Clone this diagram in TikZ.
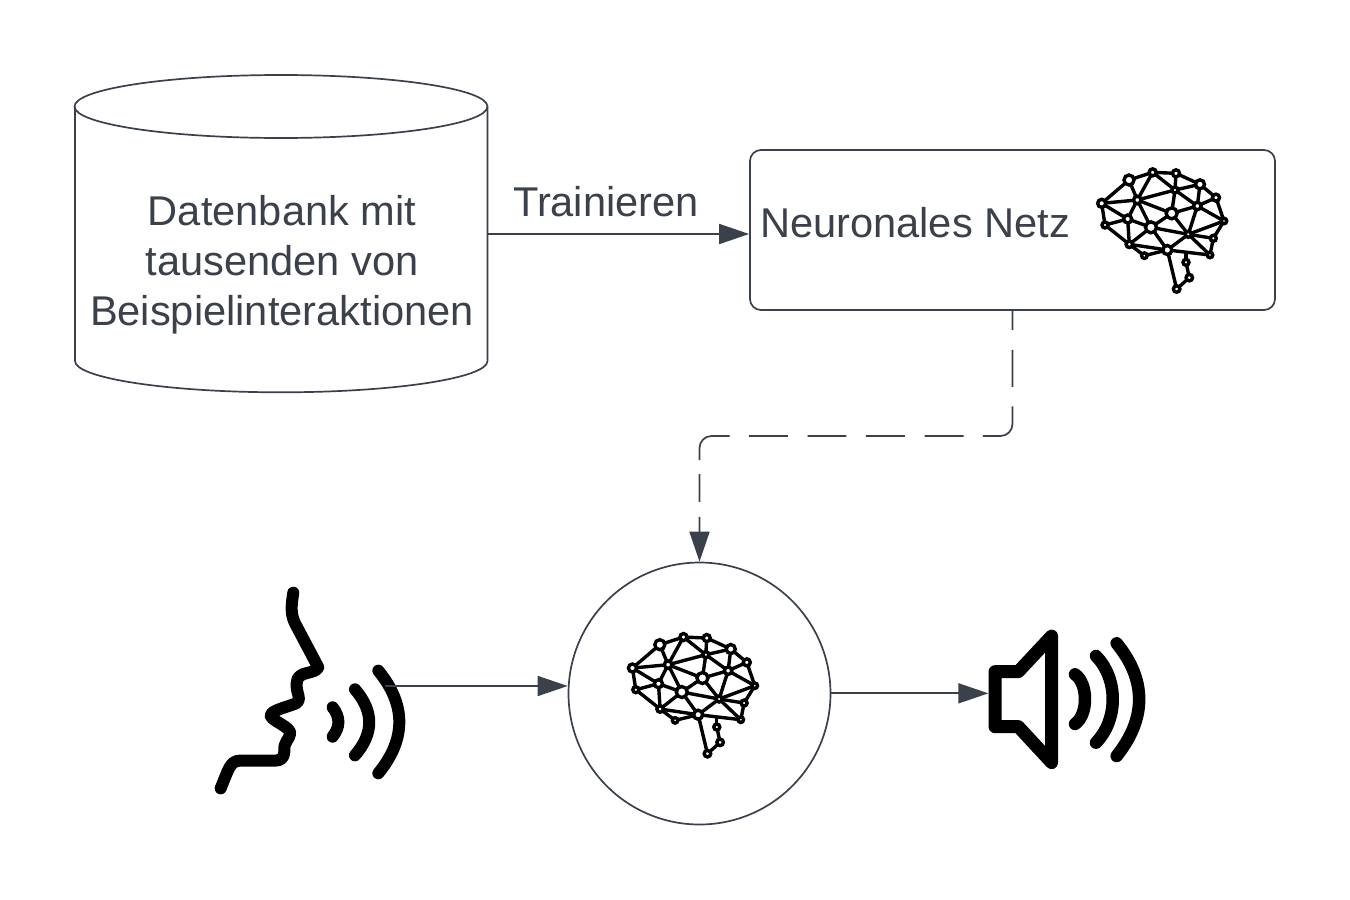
\documentclass[tikz,border=0pt]{standalone}
\usepackage{fontspec}
\setmainfont{Liberation Sans}
\usetikzlibrary{arrows.meta}
\definecolor{ink}{HTML}{3A414A}
\tikzset{
  x=1pt,y=-1pt,
  outline/.style={draw=ink,line width=1.7pt},
  label text/.style={text=ink,font=\fontsize{41.6}{50}\selectfont,inner sep=0pt},
  conn/.style={draw=ink,line width=1.7pt,-{Triangle[length=30pt,width=20pt,fill=ink]}},
  linkdash/.style={dash pattern=on 19pt off 20pt on 37pt off 19.5pt on 54pt off 19.3pt on 39pt off 19.7pt on 39pt off 19.6pt on 38.7pt off 19.7pt on 39pt off 19.3pt on 49pt off 14pt on 27.7pt off 15pt on 60pt off 1pt},
  icon/.style={draw=black,line cap=round,line join=round,fill=none},
  bn/.style={circle,draw=black,fill=white,line width=3.4pt,inner sep=0pt,minimum size=#1},
  brain edge/.style={draw=black,line width=3.4pt},
  pics/brain/.style={code={
    \begin{scope}[x=0.3333pt,y=-0.3333pt]
    \foreach \n/\px/\py in {a/65/145,b/75/210,c/147/75,d/218/52,e/288/55,f/360/88,g/408/128,h/432/198,i/400/250,j/390/300,k/318/322,l/328/368,m/290/402,n/262/285,o/193/302,p/148/268,q/143/192,r/172/135,s/213/217,t/275/175,u/285/105,v/352/153,w/325/238,y/318/292}
      {\coordinate (-\n) at (\px,\py);}
    \foreach \p/\q in {a/c,c/d,d/e,e/f,f/g,g/h,h/i,i/j,k/y,k/l,l/m,m/n,a/r,a/q,a/b,b/q,b/p,q/r,c/r,d/r,r/u,d/u,e/u,u/f,f/v,v/g,v/h,u/t,u/v,r/t,t/v,t/s,r/s,q/s,q/p,s/p,s/n,s/w,t/w,v/w,w/h,w/i,w/j,w/n,p/n,p/o,o/n,n/j}
      {\draw[brain edge] (-\p) -- (-\q);}
    \foreach \n/\sz in {a/8pt,b/6pt,c/10pt,d/7pt,e/7pt,f/9pt,g/7pt,h/5.5pt,i/6pt,j/5.5pt,k/6pt,l/6.5pt,m/6.5pt,n/9pt,o/5.5pt,p/6.5pt,q/8pt,r/7.5pt,s/11pt,t/11pt,u/6pt,v/7.5pt,w/6pt}
      {\node[bn=\sz] (-\n-d) at (-\n) {};}
    \end{scope}
  }},
}
\begin{document}
\begin{tikzpicture}
\useasboundingbox[fill=white] (0,0) rectangle (1350,900);

% database
\draw[outline] (75,106.5) -- (75,361) .. controls (75,378) and (167,392.3) .. (281,392.3) .. controls (395,392.3) and (487.5,378) .. (487.5,361) -- (487.5,106.5);
\draw[outline] (281,106.5) ellipse [x radius=206.5,y radius=31.5];
\node[minimum width=412pt,minimum height=317pt,inner sep=0pt] (db) at (281,234) {};
\node[label text,align=center] (dbtext) at (282,265) {Datenbank mit\\tausenden von\\Beispielinteraktionen};

% network box
\node[outline,rounded corners=11pt,minimum width=525pt,minimum height=160pt,inner sep=0pt] (nn) at (1012.5,230) {};
\node[label text,anchor=west] (nnlabel) at (760,223) {Neuronales Netz};
\pic (brainA) at (1080,155) {brain};

% model circle
\node[outline,circle,minimum size=262pt,inner sep=0pt] (ki) at (699.5,693.5) {};
\pic (brainB) at (610.8,619.7) {brain};

% connectors
\node[label text] (train) at (606,202) {Trainieren};
\coordinate (knick) at (0,436);
\draw[conn] (db.east) -- (db.east -| nn.west);
\draw[conn,linkdash,rounded corners=12pt] (nn.south) -- (nn.south |- knick) -- (ki.north |- knick) -- (ki.north);

% speaking head
\begin{scope}[shift={(200,580)},x=0.3333pt,y=-0.3333pt]
\draw[icon,line width=12pt] (280,38) .. controls (275,70) and (270,100) .. (285,130) -- (355,262)
  .. controls (345,285) and (290,270) .. (290,310)
  .. controls (288,340) and (305,355) .. (292,368)
  .. controls (270,380) and (210,390) .. (212,408)
  .. controls (220,425) and (270,440) .. (271,460)
  .. controls (268,480) and (250,485) .. (253,515)
  .. controls (253,535) and (240,542) .. (225,542)
  -- (120,542) .. controls (90,542) and (85,570) .. (62,625);
\foreach \ex/\ey/\cx/\h in {398/382/421/88,465/328/522/198,535/272/619/308}{
  \draw[icon,line width=12pt] (\ex,\ey) .. controls (\cx,\ey+\h/3) and (\cx,\ey+2*\h/3) .. (\ex,\ey+\h);
}
\coordinate (voice) at (555,318);
\end{scope}
\draw[conn] (voice) -- (voice -| ki.west);

% loudspeaker
\begin{scope}[shift={(970,620)},x=0.3333pt,y=-0.3333pt]
\coordinate (spk) at (55,220);
\draw[icon,line width=13pt] (75,155) -- (145,155) -- (245,48) -- (245,428) -- (145,320) -- (75,320) -- cycle;
\draw[icon,line width=12.5pt] (315,163) .. controls (355,190) and (355,285) .. (315,312);
\draw[icon,line width=12.5pt] (378,108) .. controls (445,175) and (445,300) .. (378,368);
\draw[icon,line width=12.5pt] (440,70) .. controls (530,180) and (530,295) .. (440,408);
\end{scope}
\draw[conn] (ki.east |- spk) -- (spk);
\end{tikzpicture}
\end{document}
